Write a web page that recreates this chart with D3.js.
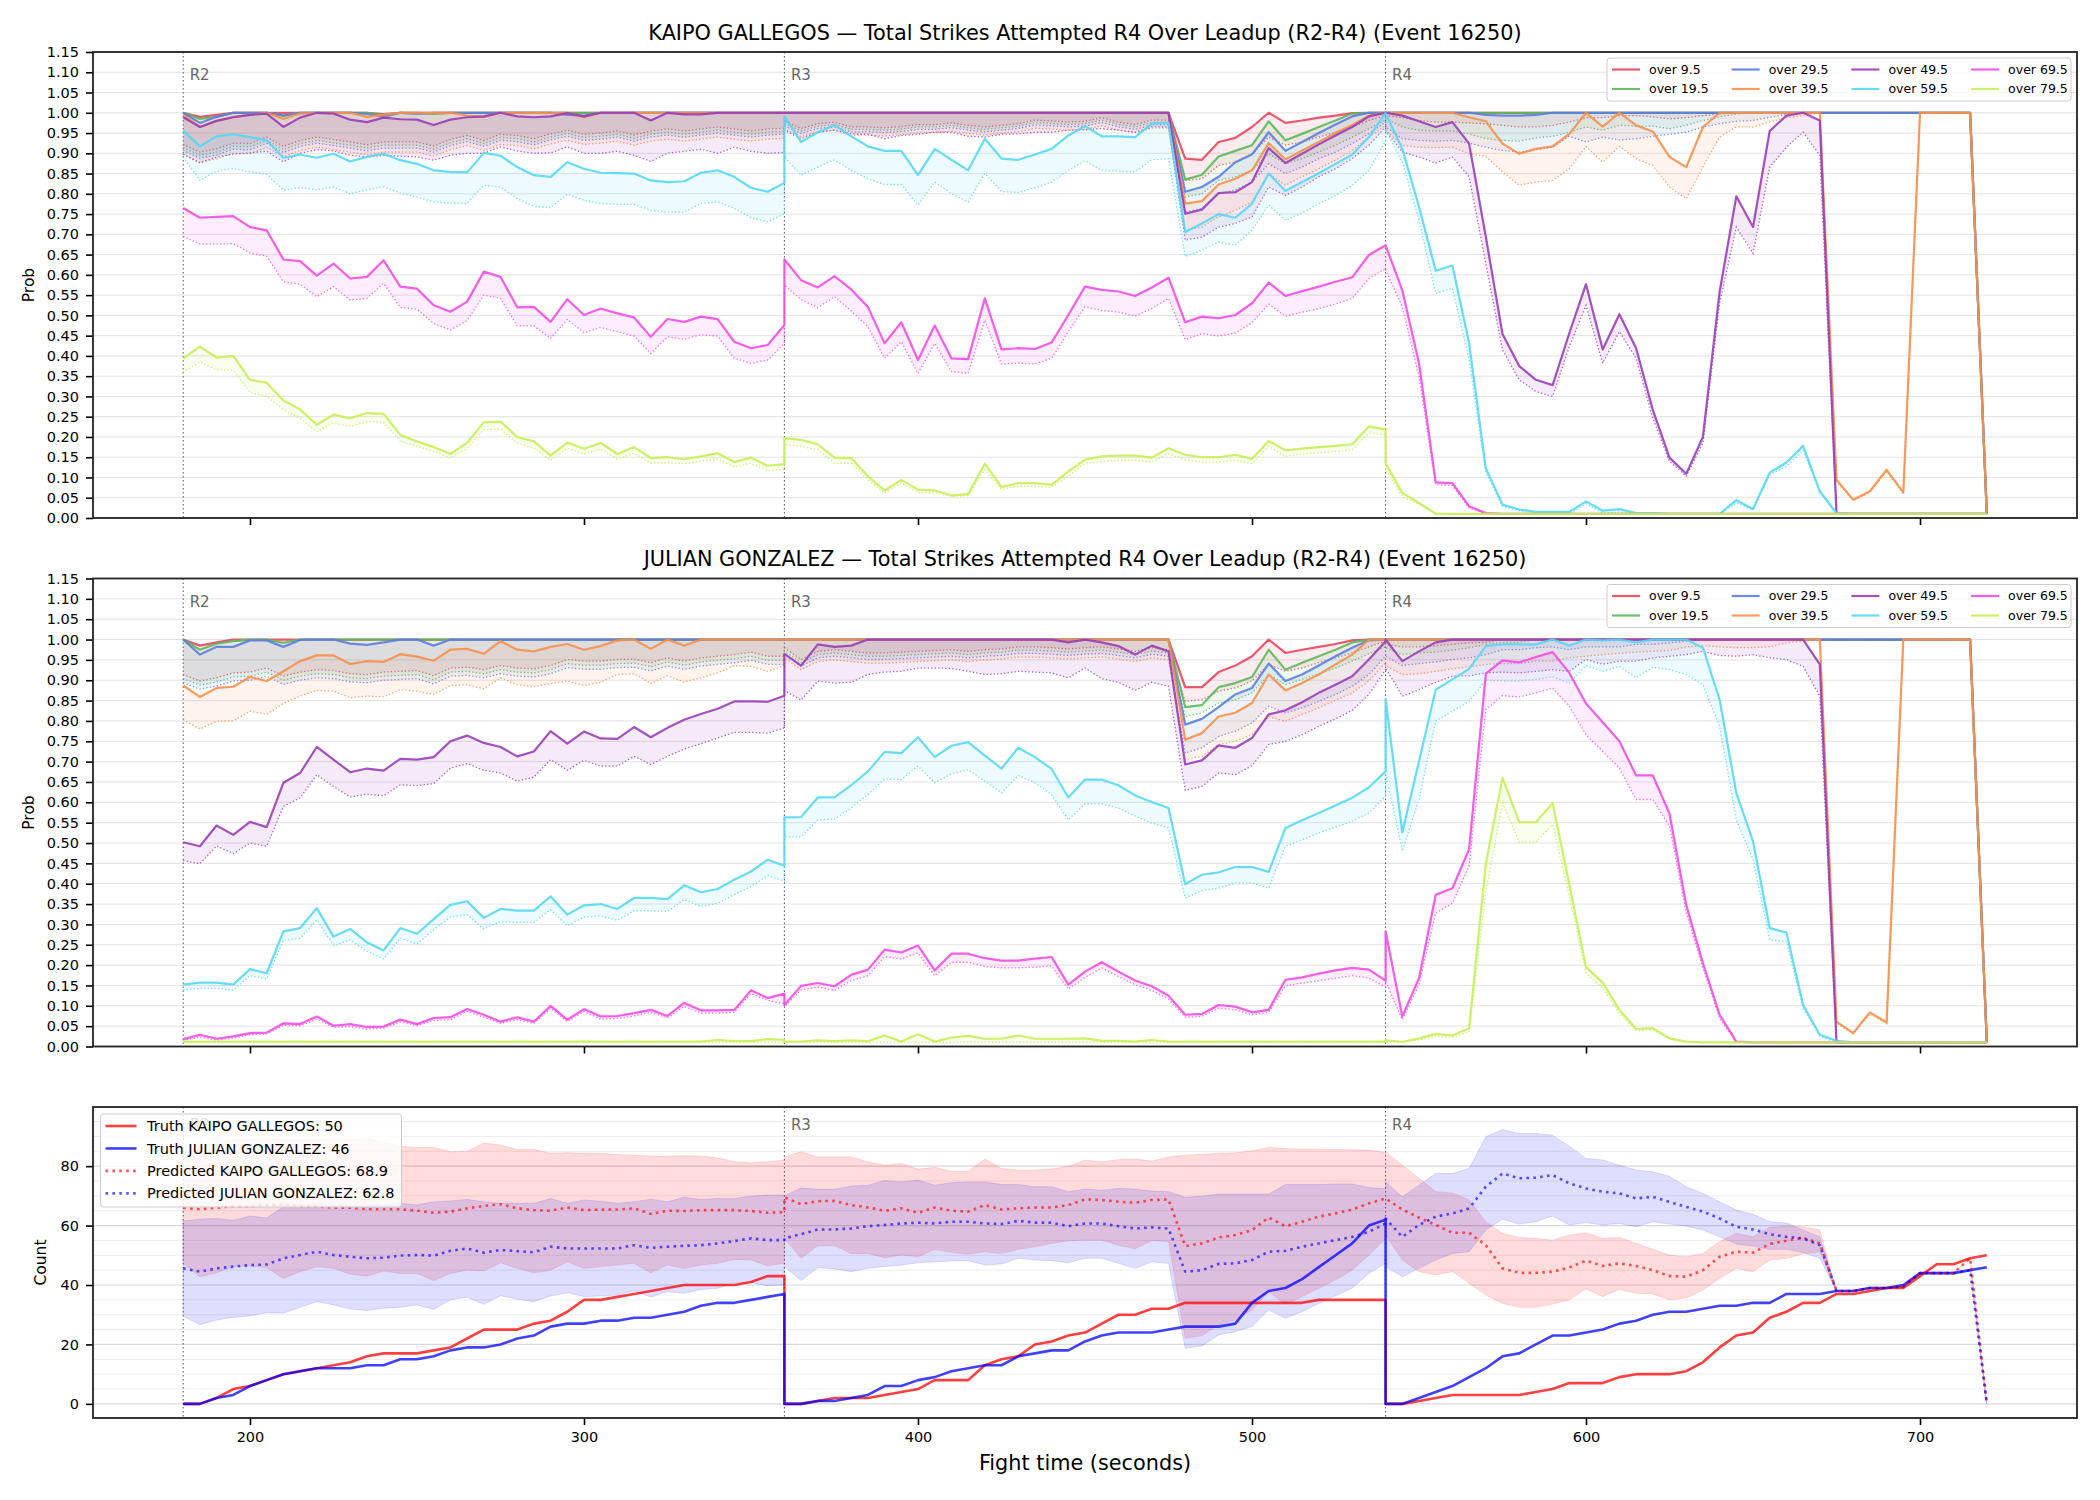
<!DOCTYPE html>
<html>
<head>
<meta charset="utf-8">
<script src="https://cdn.jsdelivr.net/npm/d3@7"></script>
<style>
body{margin:0;background:#fff}
svg{display:block}
text{font-family:"DejaVu Sans",sans-serif}
</style>
</head>
<body>
<div id="chart"></div>
<script>
// sample grid: every 5 s inside each round (R2, R3, R4), both ends kept
var roundStarts=[180,360,540];
var roundNames=["R2","R3","R4"];
var times=roundStarts.flatMap(function(r){return d3.range(0,181,5).map(function(s){return r+s;});});

var thresholds=["over 9.5","over 19.5","over 29.5","over 39.5","over 49.5","over 59.5","over 69.5","over 79.5"];
var colors=["#e8455e","#5cb85c","#5b7fe0","#f7904a","#9a3db8","#55d8f5","#f24ce6","#c5ef55"];

// ---- KAIPO GALLEGOS: solid = prob, _lo = dotted lower line ----
var kg95=[1,.99,.995,1,1,1,1,1,1,1,1,1,.997,1,1,1,1,1,1,1,1,1,1,1,1,1,1,1,1,1,1,1,1,1,1,1,1,
1,1,1,1,1,1,1,1,1,1,1,1,1,1,1,1,1,1,1,1,1,1,1,1,.887,.884,.928,.938,.965,1,.975,.981,.988,.993,.999,1,1,
1,1,1,1,1,1,1,1,1,1,1,1,1,1,1,1,1,1,1,1,1,1,1,1,1,1,1,1,1,1,1,1,1,1,1,1,.01];
var kg95_lo=[.922,.903,.911,.925,.924,.94,.917,.932,.94,.934,.928,.921,.928,.928,.928,.918,.934,.944,.932,.947,.944,.936,.948,.957,.947,.95,.955,.945,.955,.96,.955,.96,.965,.96,.955,.96,.962,
.98,.961,.973,.977,.965,.965,.963,.966,.971,.971,.975,.969,.965,.969,.973,.982,.98,.977,.979,.988,.977,.971,.982,.982,.833,.837,.87,.878,.899,.94,.92,.928,.94,.952,.965,.981,.993,
.993,.988,.981,.977,.977,.975,.973,.969,.965,.965,.969,.977,.988,.988,.993,.993,.99,.985,.988,.993,.997,1,1,1,1,1,1,1,1,1,1,1,1,1,1,1,.01];
var kg195=[1,.985,.99,1,1,1,.993,1,1,1,1,1,.995,1,1,.997,1,1,1,1,1,1,1,1,1,1,1,1,1,1,1,1,1,1,1,1,1,
1,1,1,1,1,1,1,1,1,1,1,1,1,1,1,1,1,1,1,1,1,1,1,1,.835,.847,.892,.906,.92,.979,.932,.948,.965,.981,.998,1,1,
1,1,1,1,1,1,1,1,1,1,1,1,1,1,1,1,1,1,1,1,1,1,1,1,1,1,1,1,1,1,1,1,1,1,1,1,.01];
var kg195_lo=[.914,.895,.903,.917,.916,.932,.909,.924,.932,.926,.92,.913,.92,.92,.92,.91,.926,.936,.924,.939,.936,.928,.94,.949,.939,.942,.947,.937,.947,.952,.947,.952,.957,.952,.947,.952,.954,
.974,.955,.967,.971,.959,.959,.957,.96,.965,.965,.969,.963,.959,.963,.967,.976,.974,.971,.973,.982,.971,.965,.976,.976,.792,.8,.833,.842,.858,.899,.874,.887,.903,.92,.94,.961,.982,
.985,.965,.957,.955,.955,.948,.936,.932,.93,.938,.942,.952,.965,.957,.969,.967,.967,.961,.969,.981,.99,.997,1,1,1,1,1,1,1,1,1,1,1,1,1,1,.01];
var kg295=[1,.975,.99,1,1,1,.993,1,1,1,1,.997,.99,1,.997,1,1,1,1,1,1,1,1,.995,.993,1,1,1,1,1,1,1,1,1,1,1,1,
1,1,1,1,1,1,1,1,1,1,1,1,1,1,1,1,1,1,1,1,1,1,1,1,.805,.817,.842,.878,.897,.952,.906,.928,.95,.971,.991,1,1,
1,1,1,1,1,1,.995,.993,.993,.995,1,1,1,1,1,1,1,1,1,1,1,1,1,1,1,1,1,1,1,1,1,1,1,1,1,1,.01];
var kg295_lo=[.907,.888,.896,.91,.909,.925,.902,.917,.925,.919,.913,.906,.913,.913,.913,.903,.919,.929,.917,.932,.929,.921,.933,.942,.932,.935,.94,.93,.94,.945,.94,.945,.95,.945,.94,.945,.947,
.968,.949,.961,.965,.953,.953,.951,.954,.959,.959,.963,.957,.953,.957,.961,.97,.968,.965,.967,.976,.965,.959,.97,.97,.755,.764,.8,.81,.829,.874,.85,.866,.887,.903,.924,.948,.977,
.965,.936,.932,.93,.932,.925,.915,.907,.903,.909,.915,.942,.928,.94,.933,.936,.942,.947,.952,.965,.973,.979,.981,.989,.996,1,1,1,1,1,1,1,1,1,1,1,.01];
var kg395=[.995,.965,.98,.99,.995,1,.985,.998,1,1,1,.99,.995,1,1,1,1,.993,.99,1,1,1,1,1,.989,1,1,1,1,1,1,1,1,1,1,1,1,
1,1,1,1,1,1,1,1,1,1,1,1,1,1,1,1,1,1,1,1,1,1,1,1,.776,.782,.823,.837,.858,.925,.885,.907,.928,.95,.97,.993,1,
1,1,1,1,1,.989,.979,.924,.899,.911,.917,.948,1,.966,1,.969,.954,.891,.866,.965,1,1,1,1,1,1,1,.094,.045,.066,.119,.063,1,1,1,1,.01];
var kg395_lo=[.897,.878,.886,.9,.899,.915,.892,.907,.915,.909,.903,.896,.903,.903,.903,.893,.909,.919,.907,.922,.919,.911,.923,.932,.922,.925,.93,.92,.93,.935,.93,.935,.94,.935,.93,.935,.937,
.96,.941,.953,.957,.945,.945,.943,.946,.951,.951,.955,.949,.945,.949,.953,.962,.96,.957,.959,.968,.957,.951,.962,.962,.71,.718,.743,.759,.78,.85,.821,.842,.862,.883,.907,.94,.969,
.957,.92,.915,.914,.915,.899,.892,.854,.821,.829,.833,.862,.917,.878,.917,.887,.87,.817,.788,.866,.94,.965,.965,.977,.988,.993,1,.09,.043,.063,.115,.06,1,1,1,1,.01];
var kg495=[.989,.965,.98,.989,.995,.998,.965,.988,1,.998,.983,.977,.988,.984,.983,.97,.983,.989,.991,1,.991,.989,.991,.999,.991,1,1,1,.981,1,.996,.996,1,1,1,1,1,
1,1,1,1,1,1,1,1,1,1,1,1,1,1,1,1,1,1,1,1,1,1,1,1,.751,.761,.802,.804,.829,.913,.876,.899,.922,.944,.965,.991,1,
1,.993,.979,.965,.977,.924,.694,.454,.375,.341,.328,.456,.577,.416,.503,.419,.267,.149,.109,.2,.558,.794,.718,.955,.993,1,.981,.01,.01,.01,.01,.01,.01,.01,.01,.01,.01];
var kg495_lo=[.898,.876,.891,.898,.901,.905,.879,.9,.909,.906,.895,.891,.895,.893,.891,.883,.895,.9,.9,.916,.906,.9,.901,.916,.9,.9,.905,.895,.88,.9,.905,.91,.9,.915,.905,.9,.902,
.957,.936,.952,.957,.948,.947,.936,.944,.947,.952,.952,.942,.94,.947,.948,.952,.952,.957,.958,.961,.957,.952,.965,.965,.686,.693,.718,.727,.743,.817,.796,.817,.842,.862,.887,.92,.965,
.956,.903,.891,.876,.891,.842,.628,.415,.341,.312,.3,.423,.525,.382,.46,.394,.246,.14,.103,.185,.53,.718,.653,.866,.915,.952,.895,.01,.01,.01,.01,.01,.01,.01,.01,.01,.01];
var kg595=[.956,.917,.942,.947,.94,.932,.889,.897,.889,.899,.88,.891,.899,.883,.874,.858,.854,.853,.901,.894,.866,.846,.842,.878,.862,.852,.851,.85,.833,.829,.831,.852,.858,.842,.815,.805,.827,
.991,.928,.952,.97,.942,.917,.906,.906,.846,.911,.884,.858,.936,.887,.884,.897,.911,.944,.967,.942,.942,.94,.973,.975,.706,.727,.75,.741,.776,.85,.807,.829,.851,.874,.897,.94,.999,
.999,.911,.768,.61,.623,.431,.123,.033,.021,.015,.015,.015,.041,.018,.022,.012,.012,.01,.01,.01,.01,.044,.022,.112,.137,.178,.066,.012,.01,.01,.01,.01,.01,.01,.01,.01,.01];
var kg595_lo=[.891,.833,.856,.862,.854,.848,.809,.815,.81,.817,.8,.81,.817,.802,.792,.78,.777,.776,.821,.817,.788,.769,.766,.799,.784,.776,.774,.774,.759,.755,.755,.776,.78,.764,.741,.731,.751,
.891,.846,.866,.884,.858,.837,.823,.823,.772,.829,.8,.78,.85,.806,.803,.815,.829,.858,.881,.858,.856,.854,.884,.887,.645,.661,.681,.673,.71,.772,.735,.753,.776,.796,.821,.858,.93,
.956,.878,.735,.554,.567,.39,.111,.029,.018,.01,.01,.01,.035,.012,.015,.01,.01,.01,.01,.01,.01,.037,.02,.107,.127,.167,.062,.01,.01,.01,.01,.01,.01,.01,.01,.01,.01];
var kg695=[.765,.741,.743,.745,.718,.71,.638,.634,.598,.628,.591,.595,.636,.571,.566,.525,.509,.534,.608,.595,.52,.521,.484,.54,.501,.517,.505,.495,.447,.491,.484,.497,.491,.435,.419,.427,.476,
.638,.587,.569,.597,.564,.521,.431,.483,.39,.475,.394,.392,.542,.416,.419,.417,.433,.501,.571,.563,.559,.548,.569,.593,.483,.497,.493,.501,.53,.581,.548,.56,.571,.583,.594,.649,.673,
.673,.562,.382,.088,.086,.029,.012,.01,.01,.01,.01,.01,.01,.01,.01,.01,.01,.01,.01,.01,.01,.01,.01,.01,.01,.01,.01,.01,.01,.01,.01,.01,.01,.01,.01,.01,.01];
var kg695_lo=[.695,.676,.676,.677,.654,.646,.583,.577,.546,.571,.538,.542,.579,.52,.515,.48,.464,.487,.55,.542,.474,.474,.443,.49,.457,.47,.46,.449,.406,.447,.441,.452,.449,.394,.382,.39,.431,
.575,.539,.519,.546,.511,.472,.394,.435,.357,.431,.361,.357,.488,.38,.382,.38,.394,.46,.521,.512,.508,.498,.517,.542,.44,.455,.449,.456,.482,.528,.498,.508,.517,.528,.542,.591,.616,
.612,.521,.349,.082,.08,.025,.01,.01,.01,.01,.01,.01,.01,.01,.01,.01,.01,.01,.01,.01,.01,.01,.01,.01,.01,.01,.01,.01,.01,.01,.01,.01,.01,.01,.01,.01,.01];
var kg795=[.394,.423,.396,.4,.341,.334,.29,.268,.23,.255,.246,.259,.257,.205,.189,.175,.158,.186,.236,.238,.2,.189,.154,.186,.171,.185,.158,.175,.148,.15,.145,.152,.16,.138,.149,.129,.133,
.197,.193,.182,.149,.148,.103,.068,.094,.07,.068,.056,.059,.134,.076,.086,.086,.082,.115,.144,.152,.154,.154,.149,.172,.156,.15,.15,.156,.146,.19,.167,.171,.175,.178,.182,.226,.218,
.135,.062,.037,.011,.01,.01,.01,.01,.01,.01,.01,.01,.01,.01,.01,.01,.01,.01,.01,.01,.01,.01,.01,.01,.01,.01,.01,.01,.01,.01,.01,.01,.01,.01,.01,.01,.01];
var kg795_lo=[.36,.385,.365,.365,.31,.3,.267,.246,.213,.234,.226,.238,.236,.189,.177,.164,.148,.172,.218,.219,.185,.172,.142,.172,.158,.17,.145,.16,.135,.137,.134,.14,.146,.126,.135,.117,.12,
.181,.177,.168,.135,.135,.094,.062,.086,.063,.062,.053,.055,.119,.07,.078,.078,.076,.103,.135,.139,.142,.142,.138,.158,.144,.138,.138,.142,.134,.177,.152,.158,.161,.164,.168,.209,.205,
.119,.053,.033,.01,.01,.01,.01,.01,.01,.01,.01,.01,.01,.01,.01,.01,.01,.01,.01,.01,.01,.01,.01,.01,.01,.01,.01,.01,.01,.01,.01,.01,.01,.01,.01,.01,.01];

// ---- JULIAN GONZALEZ ----
var jg95=[1,.985,.993,1,1,1,1,1,1,1,1,1,1,1,1,1,1,1,1,1,1,1,1,1,1,1,1,1,1,1,1,1,1,1,1,1,1,
1,1,1,1,1,1,1,1,1,1,1,1,1,1,1,1,1,1,1,1,1,1,1,1,.883,.883,.92,.936,.959,1,.967,.975,.982,.989,.998,1,1,
1,1,1,1,1,1,1,1,1,1,1,1,1,1,1,1,1,1,1,1,1,1,1,1,1,1,1,1,1,1,1,1,1,1,1,1,.01];
var jg95_lo=[.914,.898,.906,.918,.92,.93,.91,.92,.926,.924,.916,.914,.92,.922,.924,.911,.93,.932,.926,.936,.93,.928,.936,.951,.947,.947,.951,.952,.943,.955,.947,.955,.959,.963,.969,.959,.959,
.98,.951,.971,.975,.971,.967,.967,.969,.971,.973,.975,.971,.975,.977,.982,.982,.98,.977,.98,.982,.977,.971,.98,.975,.848,.852,.873,.881,.898,.939,.922,.93,.943,.955,.967,.982,.996,
.988,.982,.982,.985,.988,.992,.993,1,1,1,1,1,1,1,1,1,1,1,1,1,1,1,1,1,1,1,1,1,1,1,1,1,1,1,1,1,.01];
var jg195=[1,.975,.99,.996,1,1,.992,1,1,1,1,1,1,1,1,1,1,1,1,1,1,1,1,1,1,1,1,1,1,1,1,1,1,1,1,1,1,
1,1,1,1,1,1,1,1,1,1,1,1,1,1,1,1,1,1,1,1,1,1,1,1,.834,.839,.883,.893,.908,.975,.926,.943,.959,.975,.993,1,1,
1,1,1,1,1,1,1,1,1,1,1,1,1,1,1,1,1,1,1,1,1,1,1,1,1,1,1,1,1,1,1,1,1,1,1,1,.01];
var jg195_lo=[.904,.888,.896,.908,.91,.92,.9,.91,.916,.914,.906,.904,.91,.912,.914,.901,.92,.922,.916,.926,.92,.918,.926,.941,.937,.937,.941,.942,.933,.945,.937,.945,.949,.953,.959,.949,.949,
.972,.943,.963,.967,.963,.959,.959,.961,.963,.965,.967,.963,.967,.969,.974,.974,.972,.969,.972,.974,.969,.963,.972,.967,.811,.82,.844,.852,.869,.914,.889,.902,.916,.93,.947,.965,.982,
.98,.963,.967,.969,.974,.98,.988,.992,.993,1,1,1,1,1,1,1,1,1,1,1,1,1,1,1,1,1,1,1,1,1,1,1,1,1,1,1,.01];
var jg295=[1,.963,.982,.982,.998,.998,.982,.999,1,1,.99,.987,.993,1,1,.985,1,1,1,1,1,1,1,1,1,1,1,1,1,1,1,1,1,1,1,1,1,
1,1,1,1,1,1,1,1,1,1,1,1,1,1,1,1,1,1,1,1,1,1,1,1,.791,.805,.834,.865,.881,.941,.898,.914,.936,.959,.98,.998,1,
1,1,1,1,1,1,1,1,1,1,1,1,1,1,1,1,1,1,1,1,1,1,1,1,1,1,1,1,1,1,1,1,1,1,1,1,.01];
var jg295_lo=[.894,.878,.886,.898,.9,.91,.89,.9,.906,.904,.896,.894,.9,.902,.904,.891,.91,.912,.906,.916,.91,.908,.916,.931,.927,.927,.931,.932,.923,.935,.927,.935,.939,.943,.949,.939,.939,
.964,.935,.955,.959,.955,.951,.951,.953,.955,.957,.959,.955,.959,.961,.966,.966,.964,.961,.964,.966,.961,.955,.964,.959,.721,.734,.762,.775,.795,.836,.82,.832,.848,.865,.885,.914,.959,
.959,.936,.941,.945,.951,.955,.963,.975,.975,.98,.982,.975,.982,.982,.982,.988,.988,.992,.996,1,1,1,1,1,1,1,1,1,1,1,1,1,1,1,1,1,.01];
var jg395=[.887,.859,.881,.884,.908,.898,.922,.947,.961,.961,.94,.947,.945,.964,.958,.948,.975,.977,.965,.996,.975,.971,.982,.989,.975,.984,.998,1,.977,1,.985,1,1,1,1,1,1,
1,1,1,1,1,1,1,1,1,1,1,1,1,1,1,1,1,1,1,1,1,1,1,1,.754,.77,.811,.82,.844,.914,.875,.893,.914,.939,.963,1,1,
1,1,1,1,1,1,1,1,1,1,1,1,1,1,1,1,1,1,1,1,1,1,1,1,1,1,1,.061,.033,.084,.059,1,1,1,1,1,.01];
var jg395_lo=[.803,.78,.799,.8,.824,.816,.843,.861,.875,.873,.857,.861,.859,.877,.873,.865,.887,.889,.879,.906,.889,.884,.892,.898,.887,.895,.914,.916,.892,.911,.895,.906,.918,.936,.934,.922,.936,
.955,.926,.946,.95,.946,.942,.942,.944,.946,.948,.95,.946,.95,.952,.957,.957,.955,.952,.955,.957,.952,.946,.955,.95,.705,.713,.742,.75,.766,.811,.799,.816,.832,.851,.869,.898,.943,
.936,.914,.916,.922,.928,.933,.939,.941,.941,.947,.947,.955,.959,.963,.966,.969,.971,.973,.982,.985,.982,.98,.98,.982,.992,.996,1,.057,.031,.08,.056,1,1,1,1,1,.01];
var jg495=[.502,.492,.543,.52,.552,.539,.648,.672,.736,.705,.674,.683,.678,.707,.705,.711,.75,.764,.746,.736,.713,.725,.775,.744,.774,.757,.756,.785,.76,.783,.803,.817,.83,.848,.848,.847,.862,
.965,.936,.988,.982,.985,1,1,1,1,1,1,1,1,1,1,1,1,.993,1,.993,.984,.963,.985,.971,.693,.703,.74,.734,.758,.816,.826,.846,.869,.889,.91,.951,.996,
1,.947,.971,.993,1,1,1,1,1,1,1,1,1,1,1,1,1,1,1,1,1,1,1,1,1,1,.939,.01,.01,.01,.01,.01,.01,.01,.01,.01,.01];
var jg495_lo=[.457,.449,.493,.474,.5,.492,.59,.611,.668,.639,.613,.62,.616,.643,.641,.646,.684,.695,.679,.672,.652,.662,.705,.679,.703,.689,.689,.713,.693,.713,.731,.744,.758,.772,.772,.77,.783,
.875,.851,.898,.893,.895,.914,.92,.922,.93,.93,.929,.922,.914,.916,.922,.92,.918,.906,.93,.904,.895,.875,.895,.885,.63,.639,.672,.668,.69,.742,.75,.766,.787,.805,.826,.865,.926,
.93,.861,.877,.895,.91,.911,.918,.92,.918,.922,.926,.922,.951,.939,.947,.947,.955,.959,.963,.971,.961,.959,.963,.955,.951,.934,.861,.01,.01,.01,.01,.01,.01,.01,.01,.01,.01];
var jg595=[.152,.157,.157,.152,.19,.18,.283,.291,.34,.27,.289,.256,.236,.291,.277,.313,.348,.357,.316,.338,.334,.334,.369,.324,.347,.35,.338,.365,.365,.362,.396,.379,.387,.41,.43,.459,.444,
.563,.564,.612,.612,.642,.676,.724,.721,.76,.711,.739,.748,.715,.683,.734,.711,.682,.612,.656,.656,.642,.617,.601,.586,.399,.422,.428,.441,.441,.429,.537,.556,.574,.592,.611,.637,.676,
.854,.526,.701,.877,.902,.928,.984,.988,.988,.988,1,.985,1,.998,1,.993,1,1,1,.98,.852,.623,.504,.291,.28,.102,.029,.014,.01,.01,.01,.01,.01,.01,.01,.01,.01];
var jg595_lo=[.139,.143,.143,.138,.174,.166,.261,.266,.311,.248,.262,.234,.215,.266,.252,.287,.318,.324,.289,.307,.305,.305,.336,.297,.318,.321,.31,.334,.334,.332,.361,.344,.352,.373,.393,.42,.406,
.515,.515,.557,.559,.586,.619,.657,.656,.689,.648,.67,.68,.652,.623,.666,.648,.619,.557,.596,.596,.586,.566,.549,.537,.365,.383,.389,.402,.402,.389,.492,.508,.525,.539,.553,.574,.615,
.672,.48,.607,.8,.824,.848,.9,.898,.898,.902,.908,.893,.936,.922,.934,.906,.932,.926,.914,.889,.787,.557,.459,.262,.258,.094,.025,.01,.01,.01,.01,.01,.01,.01,.01,.01,.01];
var jg695=[.018,.029,.019,.025,.033,.034,.057,.055,.074,.051,.055,.048,.049,.066,.055,.07,.072,.092,.078,.061,.072,.061,.1,.066,.092,.074,.075,.082,.09,.075,.107,.089,.089,.09,.138,.119,.13,
.102,.149,.156,.148,.176,.189,.238,.231,.248,.187,.228,.228,.217,.211,.211,.216,.22,.152,.184,.207,.184,.162,.148,.125,.078,.08,.102,.098,.084,.09,.164,.17,.179,.187,.193,.189,.162,
.283,.074,.168,.373,.389,.485,.916,.949,.944,.957,.969,.918,.843,.797,.75,.666,.666,.572,.348,.205,.078,.012,.01,.01,.01,.01,.01,.01,.01,.01,.01,.01,.01,.01,.01,.01,.01];
var jg695_lo=[.015,.023,.016,.02,.029,.031,.052,.051,.067,.047,.049,.043,.045,.06,.051,.064,.066,.086,.072,.057,.066,.057,.094,.061,.086,.067,.069,.075,.084,.07,.098,.082,.082,.084,.13,.113,.105,
.098,.139,.146,.138,.162,.174,.221,.215,.23,.174,.207,.207,.197,.193,.193,.195,.198,.141,.17,.193,.172,.152,.138,.116,.072,.074,.094,.09,.078,.084,.149,.156,.162,.168,.174,.168,.146,
.16,.066,.152,.328,.352,.443,.828,.862,.859,.869,.881,.836,.766,.725,.684,.607,.607,.541,.328,.193,.07,.01,.01,.01,.01,.01,.01,.01,.01,.01,.01,.01,.01,.01,.01,.01,.01];
var jg795=[.012,.012,.012,.012,.012,.012,.012,.012,.012,.012,.012,.012,.012,.012,.012,.012,.012,.012,.012,.012,.012,.012,.012,.012,.012,.012,.012,.012,.012,.012,.012,.012,.016,.013,.013,.018,.016,
.012,.012,.015,.013,.015,.013,.027,.012,.03,.012,.022,.026,.019,.019,.027,.019,.019,.019,.02,.014,.014,.012,.016,.012,.012,.012,.012,.012,.012,.012,.012,.012,.012,.012,.012,.012,.012,
.016,.011,.02,.031,.027,.045,.449,.66,.551,.551,.598,.398,.195,.157,.09,.043,.045,.02,.012,.01,.01,.01,.01,.01,.01,.01,.01,.01,.01,.01,.01,.01,.01,.01,.01,.01,.01];
var jg795_lo=[.01,.01,.01,.01,.01,.01,.01,.01,.01,.01,.01,.01,.01,.01,.01,.01,.01,.01,.01,.01,.01,.01,.01,.01,.01,.01,.01,.01,.01,.01,.01,.01,.01,.01,.01,.01,.01,
.01,.01,.01,.01,.01,.01,.01,.01,.01,.01,.01,.01,.01,.01,.01,.01,.01,.01,.01,.01,.01,.01,.01,.01,.01,.01,.01,.01,.01,.01,.01,.01,.01,.01,.01,.01,.01,
.012,.01,.016,.025,.023,.037,.377,.598,.502,.502,.545,.369,.18,.143,.082,.039,.041,.018,.01,.01,.01,.01,.01,.01,.01,.01,.01,.01,.01,.01,.01,.01,.01,.01,.01,.01,.01];

// ---- counts panel ----
var truthKG=[0,0,2,5,6,8,10,11,12,13,14,16,17,17,17,18,19,22,25,25,25,27,28,31,35,35,36,37,38,39,40,40,40,40,41,43,43,
0,0,1,2,2,2,3,4,5,8,8,8,13,15,16,20,21,23,24,27,30,30,32,32,34,34,34,34,34,34,34,34,35,35,35,35,35,
0,0,1,2,3,3,3,3,3,4,5,7,7,7,9,10,10,10,11,14,19,23,24,29,31,34,34,37,37,38,39,39,43,47,47,49,50];
var truthJG=[0,0,2,3,6,8,10,11,12,12,12,13,13,15,15,16,18,19,19,20,22,23,26,27,27,28,28,29,29,30,31,33,34,34,35,36,37,
0,0,1,1,2,3,6,6,8,9,11,12,13,13,16,17,18,18,21,23,24,24,24,25,26,26,26,27,34,38,39,42,46,50,54,60,62,
0,0,2,4,6,9,12,16,17,20,23,23,24,25,27,28,30,31,31,32,33,33,34,34,37,37,37,38,38,39,39,40,44,44,44,45,46];
var predKG=[66,65.5,66,66.5,66.5,67,67,66.5,66.5,66,66,65.5,65.5,65.5,65,64.3,64.7,65.8,66.6,67.2,65.8,65.2,65,66.1,65.2,65.4,65.4,65.8,63.9,65,64.9,65.2,65.2,65.2,64.9,64.3,64.5,
69.5,67.2,68.2,68.3,66.9,66.1,65,65.8,64.3,66.1,65,64.7,66.9,65.4,65.8,66.1,66.1,66.9,68.8,68.6,68,67.7,68.6,68.8,53.1,54,56,56.8,58.5,62.7,59.8,61.3,63,64.1,65.4,67.5,69.1,
69.1,65.4,62.7,60.2,57.6,57.6,53.4,45.6,44.1,44.1,44.5,45.9,48.2,46.4,47.3,46.4,45,43,42.8,45,49.5,51.2,50.9,53.8,54.9,55.9,54,38,38,39,39,39.5,44,44,44,49,0];
var kgLo=[47.3,42.8,44.1,46.2,46.4,45.8,42.2,44.5,46.2,45.6,43.6,43,44.7,43.9,43.9,41.5,43.9,45,44.7,47.5,45.6,44.1,45,47.8,45.6,46.2,46.7,47.3,44.1,46.7,45.6,46.7,47.3,48.6,48.4,46.5,47.3,
55.7,49,53.2,53.2,50.6,50.6,49.2,50.1,49.5,52,51,50.4,51.2,50.6,52,52.9,54,54.9,55.1,55.1,53.4,52.2,54.9,54.6,22.1,22.9,26.6,28.2,31.6,37.8,33.5,36.1,38.9,41.7,45,50.1,55.7,
56.8,48.4,44.5,43.4,44.5,40.6,36.6,33.8,32.5,32.5,33.6,35,38.7,36.1,38.5,37.2,37,35,35.6,38.3,42.2,45.6,44.5,48.4,48.9,50.4,51.2,38,38,39,39,39.5,44,44,44,49,0];
var kgHi=[84,86,88,89,89,89.5,89,89,89,89.5,89,89.5,88,86.7,86.3,86.3,84.8,85,87.8,87.1,85.6,85.6,84.3,84.5,84.3,84.3,83.9,83.7,83.4,83.4,83.5,83.4,82.8,81.5,81.1,81.5,82,
83.1,84.8,83.1,83.1,83.1,81.5,80.3,80.9,79,79.6,78.3,78.3,82.4,79.2,78.7,78.7,79,80,82,81.5,82.2,82.4,81.7,83.1,83.7,84,84.3,84.5,85.2,86.3,85.9,85.8,85.7,85.6,85.5,85.4,84.6,
84.8,80.3,75.9,71.4,71,68.6,61.3,57.4,56,55.7,55.1,56.8,57.6,55.7,56,54,52,50.1,49.5,50.6,54.6,57.4,56.2,59.4,59.8,59.6,58.5,38,38,39,39,39.5,44,44,44,49,0];
var predJG=[45.6,44.5,45.6,46.2,46.7,46.9,49,50.1,51.2,50.1,49.5,49,49.2,49.9,50.1,49.9,51.5,52.3,50.9,51.8,51.4,51,52.9,52.3,52.3,52.3,52.3,53.4,52.5,52.9,53.2,53.4,54,54.8,55.7,55.1,55.1,
55.7,57.1,58.7,58.7,59,59.8,60.2,60.7,61,60.7,61.3,61.3,60.7,60.5,61.6,61,61,59.8,60.7,60.7,59.8,59,59.4,59,44.5,45,47.1,47.3,48.4,51.2,51.5,52.9,54,55.1,56.2,57.9,60.7,
62.4,56.2,60.2,63,64.1,65.8,73.1,77.5,75.9,76.1,77,74.2,72.5,71.4,70.8,69.1,69.7,68,66.3,64.7,62.4,59.6,58.7,57.1,56.2,55.7,53.4,38,38,39,39,39.5,44,44,44,45,0];
var jgLo=[29.6,26.6,28.2,29.1,29.6,30.7,30.5,32.5,34.4,33.3,31.9,31.4,32.2,32.5,33.3,31.8,35,35.9,33.5,36.4,35.2,34.4,36.3,37.4,36.1,36.3,36.6,38.1,35.9,37.8,37.2,38.5,38.9,40.6,40.8,39.7,40,
46.2,41.5,45.9,45.4,44.5,45.6,46.2,46.7,47.5,47.8,48.1,48.2,46.7,47.1,49,48.4,48.2,47.5,49,49,47.3,45.6,47.8,47.3,18.7,19.5,23.2,24.3,26,31.6,28.8,31,33.8,36.4,38.9,43.9,47.3,
46.2,42.8,45.6,48.4,50.6,51.2,58.5,62.1,60.5,61.3,63.2,60.2,61,60.2,60.7,59.6,61.3,60.5,59.8,58.5,56.2,53.8,53.1,52,52,50.9,49,38,38,39,39,39.5,44,44,44,45,0];
var jgHi=[61.5,62.2,62.4,61.8,63.2,62.6,66.3,66.9,67.5,66.9,66.9,66.9,66.9,67.5,66.9,68,68.3,68.8,68,67.5,67.5,67.5,69.1,67.5,68.6,68.2,67.5,68,68.9,68,69.5,68.8,69.1,69.1,69.9,70.3,70.3,
69.9,72.7,72.2,72.2,73.3,73.6,75.1,74.7,75.3,73.6,74.4,74.7,74.7,73.8,73.8,73.1,73.1,71.4,72.3,71.9,72.5,72.3,71.6,71.4,69.5,69.9,70.6,70.6,70.6,70.6,73.8,73.8,73.8,74,74,72.8,72.5,
74.7,69.7,73.6,77.5,77.5,79.2,89.9,92.3,91,91,90.4,86.7,82.6,82.1,80.3,78.7,78.1,76.6,73.1,70.8,68,65.2,63.8,61.3,60.9,58.5,56.2,38,38,39,39,39.5,44,44,44,45,0];

var countLabels=["Truth KAIPO GALLEGOS: 50","Truth JULIAN GONZALEZ: 46","Predicted KAIPO GALLEGOS: 68.9","Predicted JULIAN GONZALEZ: 62.8"];

var kaipoSolid=[kg95,kg195,kg295,kg395,kg495,kg595,kg695,kg795];
var kaipoLow=[kg95_lo,kg195_lo,kg295_lo,kg395_lo,kg495_lo,kg595_lo,kg695_lo,kg795_lo];
var julianSolid=[jg95,jg195,jg295,jg395,jg495,jg595,jg695,jg795];
var julianLow=[jg95_lo,jg195_lo,jg295_lo,jg395_lo,jg495_lo,jg595_lo,jg695_lo,jg795_lo];

//sets backdrop
var width=2100,height=1500;
var svg=d3.select("#chart").append("svg")
	.attr("width",width)
	.attr("height",height);
svg.append("rect").attr("width",width).attr("height",height).attr("fill","#fff");

var left=93,right=2077;
var x=d3.scaleLinear().domain([153,747]).range([left,right]);
var xTicks=[200,300,400,500,600,700];
var idx=d3.range(times.length);

// length check (draws nothing when all is fine)
var bad=[];
[].concat(kaipoSolid,kaipoLow,julianSolid,julianLow,[truthKG,truthJG,predKG,kgLo,kgHi,predJG,jgLo,jgHi]).forEach(function(a,i){
	if(a.length!==times.length) bad.push(i+":"+a.length);
});
if(bad.length) svg.append("text").attr("x",300).attr("y",1490).attr("fill","red").attr("font-size",14).text("LEN "+bad.join(" "));

function roundLines(g,top,h,labelAll){
	roundStarts.forEach(function(t,i){
		g.append("line")
			.attr("x1",x(t)).attr("x2",x(t))
			.attr("y1",top).attr("y2",top+h)
			.attr("stroke","#555").attr("stroke-width",1)
			.attr("stroke-dasharray","1.5,2.5");
		g.append("text")
			.attr("x",x(t)+6.5)
			.attr("y",top+0.03*h+14)
			.attr("font-size",15)
			.attr("fill","#666")
			.text(roundNames[i]);
	});
}

function styleAxis(a){
	a.attr("font-family","DejaVu Sans").attr("font-size",14.5);
	a.select(".domain").remove();
	a.selectAll(".tick line").attr("stroke","#000").attr("stroke-width",1.6);
	a.selectAll(".tick text").attr("fill","#000");
}

function probPanel(top,h,title,solids,lows){
	var y=d3.scaleLinear().domain([0,1.15]).range([top+h,top]);
	var g=svg.append("g");
	var yTicks=d3.range(24).map(function(i){return +(i*0.05).toFixed(2);});

	g.append("g").selectAll("line").data(yTicks).enter().append("line")
		.attr("x1",left).attr("x2",right)
		.attr("y1",function(d){return y(d);}).attr("y2",function(d){return y(d);})
		.attr("stroke","#e2e2e2").attr("stroke-width",1);

	roundLines(g,top,h);

	solids.forEach(function(s,k){
		var lo=lows[k];
		var area=d3.area()
			.x(function(i){return x(times[i]);})
			.y0(function(i){return y(lo[i]);})
			.y1(function(i){return y(s[i]);});
		g.append("path").datum(idx).attr("d",area)
			.attr("fill",colors[k]).attr("fill-opacity",0.1);
		g.append("path").datum(idx)
			.attr("d",d3.line().x(function(i){return x(times[i]);}).y(function(i){return y(s[i]);}))
			.attr("fill","none").attr("stroke",colors[k]).attr("stroke-width",2.2)
			.attr("stroke-opacity",0.9).attr("stroke-linejoin","round");
		g.append("path").datum(idx)
			.attr("d",d3.line().x(function(i){return x(times[i]);}).y(function(i){return y(lo[i]);}))
			.attr("fill","none").attr("stroke",colors[k]).attr("stroke-width",1.3)
			.attr("stroke-opacity",0.85).attr("stroke-dasharray","1.3,2.2");
	});

	// legend, 4 columns
	var lx=1607,ly=top+6;
	var lg=g.append("g");
	lg.append("rect").attr("x",lx).attr("y",ly).attr("width",464).attr("height",43)
		.attr("rx",3).attr("fill","#fff").attr("fill-opacity",0.8)
		.attr("stroke","#ccc").attr("stroke-width",1);
	thresholds.forEach(function(name,k){
		var c=Math.floor(k/2),r=k%2;
		var cx=lx+5+c*119.7,cy=ly+11.5+r*19.5;
		lg.append("line").attr("x1",cx).attr("x2",cx+28).attr("y1",cy).attr("y2",cy)
			.attr("stroke",colors[k]).attr("stroke-width",2.2).attr("stroke-opacity",0.9);
		lg.append("text").attr("x",cx+37).attr("y",cy).attr("dy","0.35em")
			.attr("font-size",12.5).attr("fill","#000").text(name);
	});

	g.append("g").attr("transform","translate("+left+",0)")
		.call(d3.axisLeft(y).tickValues(yTicks).tickFormat(d3.format(".2f")).tickSize(7).tickPadding(7))
		.call(styleAxis);
	g.append("g").attr("transform","translate(0,"+(top+h)+")")
		.call(d3.axisBottom(x).tickValues(xTicks).tickFormat("").tickSize(7))
		.call(styleAxis);

	g.append("rect").attr("x",left).attr("y",top).attr("width",right-left).attr("height",h)
		.attr("fill","none").attr("stroke","#222").attr("stroke-width",1.8);

	g.append("text").attr("x",(left+right)/2).attr("y",top-12.5)
		.attr("text-anchor","middle").attr("font-size",20.8).attr("fill","#000").text(title);
	g.append("text").attr("transform","translate(29,"+(top+h/2)+") rotate(-90)")
		.attr("text-anchor","middle").attr("dy","0.35em").attr("font-size",15.5).attr("fill","#000").text("Prob");
}

probPanel(52,466,"KAIPO GALLEGOS \u2014 Total Strikes Attempted R4 Over Leadup (R2-R4) (Event 16250)",kaipoSolid,kaipoLow);
probPanel(578.5,468,"JULIAN GONZALEZ \u2014 Total Strikes Attempted R4 Over Leadup (R2-R4) (Event 16250)",julianSolid,julianLow);

// ---- counts panel ----
(function(){
	var top=1107,h=311;
	var y=d3.scaleLinear().domain([-4.75,99.9]).range([top+h,top]);
	var g=svg.append("g");
	var minor=d3.range(0,100,5).filter(function(v){return v%20!==0;});
	var major=[0,20,40,60,80];
	g.selectAll(".mn").data(minor).enter().append("line")
		.attr("x1",left).attr("x2",right).attr("y1",function(d){return y(d);}).attr("y2",function(d){return y(d);})
		.attr("stroke","#ececec").attr("stroke-width",1);
	g.selectAll(".mj").data(major).enter().append("line")
		.attr("x1",left).attr("x2",right).attr("y1",function(d){return y(d);}).attr("y2",function(d){return y(d);})
		.attr("stroke","#d8d8d8").attr("stroke-width",1.2);

	roundLines(g,top,h);

	function band(lo,hi,col,op){
		g.append("path").datum(idx)
			.attr("d",d3.area().x(function(i){return x(times[i]);}).y0(function(i){return y(lo[i]);}).y1(function(i){return y(hi[i]);}))
			.attr("fill",col).attr("fill-opacity",op).attr("stroke",col).attr("stroke-opacity",0.12).attr("stroke-width",1);
	}
	band(kgLo,kgHi,"#ff0000",0.14);
	band(jgLo,jgHi,"#0000ff",0.13);

	function line(vals,col,dash){
		var p=g.append("path").datum(idx)
			.attr("d",d3.line().x(function(i){return x(times[i]);}).y(function(i){return y(vals[i]);}))
			.attr("fill","none").attr("stroke",col).attr("stroke-width",2.6)
			.attr("stroke-opacity",dash?0.65:0.75).attr("stroke-linejoin","round");
		if(dash) p.attr("stroke-dasharray","2.6,4.3");
	}
	line(truthKG,"#ff0000",false);
	line(truthJG,"#0000ff",false);
	line(predKG,"#ff0000",true);
	line(predJG,"#0000ff",true);

	// legend
	var lx=100.5,ly=1114;
	var lg=g.append("g");
	lg.append("rect").attr("x",lx).attr("y",ly).attr("width",301).attr("height",93)
		.attr("rx",3).attr("fill","#fff").attr("fill-opacity",0.8)
		.attr("stroke","#ccc").attr("stroke-width",1);
	var lcol=["#ff0000","#0000ff","#ff0000","#0000ff"];
	countLabels.forEach(function(name,k){
		var cy=ly+12+k*22.45;
		var l=lg.append("line").attr("x1",lx+5).attr("x2",lx+36).attr("y1",cy).attr("y2",cy)
			.attr("stroke",lcol[k]).attr("stroke-width",2.6).attr("stroke-opacity",k<2?0.75:0.65);
		if(k>=2) l.attr("stroke-dasharray","2.6,4.3");
		lg.append("text").attr("x",lx+46.5).attr("y",cy).attr("dy","0.35em")
			.attr("font-size",14.5).attr("fill","#000").text(name);
	});

	g.append("g").attr("transform","translate("+left+",0)")
		.call(d3.axisLeft(y).tickValues(major).tickSize(7).tickPadding(7))
		.call(styleAxis);
	g.append("g").attr("transform","translate(0,"+(top+h)+")")
		.call(d3.axisBottom(x).tickValues(xTicks).tickSize(7).tickPadding(7))
		.call(styleAxis);

	g.append("rect").attr("x",left).attr("y",top).attr("width",right-left).attr("height",h)
		.attr("fill","none").attr("stroke","#222").attr("stroke-width",1.8);

	g.append("text").attr("transform","translate(41,"+(top+h/2)+") rotate(-90)")
		.attr("text-anchor","middle").attr("dy","0.35em").attr("font-size",15.5).attr("fill","#000").text("Count");
	g.append("text").attr("x",(left+right)/2).attr("y",1470)
		.attr("text-anchor","middle").attr("font-size",20.8).attr("fill","#000").text("Fight time (seconds)");
})();
</script>
</body>
</html>
